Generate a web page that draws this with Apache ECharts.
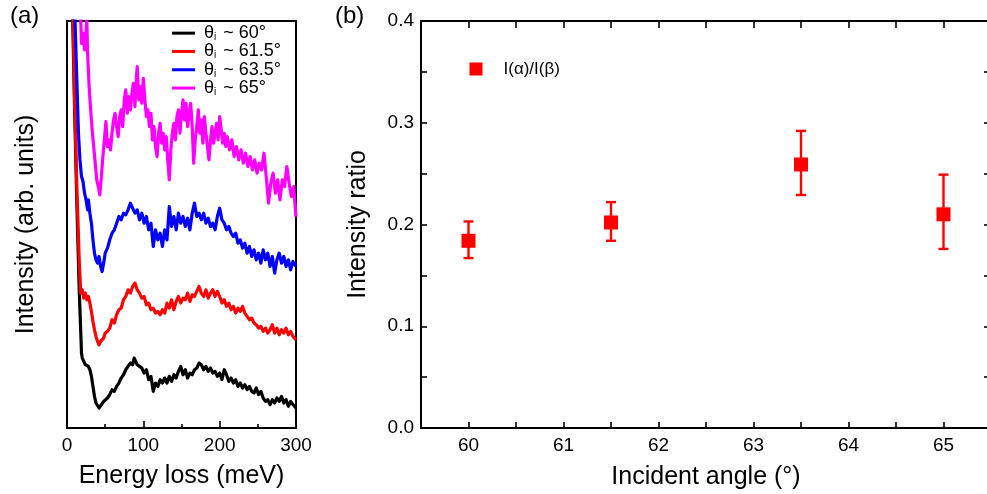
<!DOCTYPE html>
<html>
<head>
<meta charset="utf-8">
<script src="https://cdn.jsdelivr.net/npm/echarts@6/dist/echarts.min.js"></script>
<style>
html,body{margin:0;padding:0;background:#fff;}
#c{width:987px;height:494px;}
</style>
</head>
<body>
<div id="c"></div>
<script>
// ---------- Panel (a): EELS spectra, [energy loss (meV), intensity (arb. units)] ----------
const spec60 = [[6,1300],[7.5,1222],[10,955],[13,665],[16,415],[19,225],[20,210],[22,200],[24,190],[26,195],[28,185],[30,175],[32,155],[34,125],[36,95],[38,75],[40,70],[42,60],[44,65],[46,73],[48,80],[50,85],[53,90],[56,100],[59,115],[62,110],[65,125],[68,135],[71,150],[74,160],[77,175],[80,185],[83,195],[86,190],[88,210],[90,200],[92,190],[95,185],[98,180],[101,165],[104,175],[107,145],[110,155],[113,110],[116,135],[119,125],[122,145],[125,135],[128,150],[131,135],[134,155],[137,140],[140,160],[143,150],[146,170],[149,185],[152,160],[155,175],[158,150],[161,165],[164,160],[167,175],[170,180],[173,195],[176,190],[179,175],[182,185],[185,170],[188,180],[191,165],[194,170],[197,155],[200,165],[203,145],[206,175],[209,160],[212,140],[215,150],[218,135],[221,145],[224,125],[227,135],[230,120],[233,130],[236,115],[239,125],[242,110],[245,105],[248,120],[251,100],[254,110],[257,90],[260,80],[263,85],[266,70],[269,85],[272,75],[275,90],[278,80],[281,95],[284,75],[287,85],[290,65],[293,80],[296,70],[300,60]];
const spec615 = [[6,1300],[8,1222],[10,985],[13,715],[16,505],[18,405],[20,415],[22,390],[24,405],[26,385],[28,395],[30,375],[32,350],[34,320],[36,295],[38,275],[40,260],[42,250],[44,260],[46,255],[48,270],[50,285],[53,290],[56,300],[59,325],[62,315],[65,340],[68,355],[71,360],[74,385],[77,395],[80,415],[83,405],[86,425],[89,435],[92,415],[95,405],[98,390],[101,395],[104,370],[107,375],[110,355],[113,360],[116,345],[119,350],[122,340],[125,355],[128,345],[131,375],[134,360],[137,385],[140,355],[143,380],[146,395],[149,375],[152,390],[155,385],[158,405],[161,380],[164,400],[167,395],[170,410],[173,425],[176,405],[179,395],[182,415],[185,390],[188,405],[191,415],[194,395],[197,410],[200,395],[203,375],[206,385],[209,365],[212,375],[215,355],[218,365],[221,345],[224,360],[227,350],[230,365],[233,345],[236,335],[239,325],[242,330],[245,315],[248,310],[251,300],[254,305],[257,290],[260,300],[263,285],[266,295],[269,310],[272,285],[275,300],[278,280],[281,295],[284,285],[287,300],[290,280],[293,290],[296,275],[300,265]];
const spec635 = [[9,1300],[10.5,1222],[13,1035],[15,885],[17,805],[19,755],[21,740],[23,705],[25,685],[27,655],[28,685],[30,645],[32,615],[34,565],[36,525],[38,505],[40,495],[42,515],[44,485],[46,470],[48,495],[50,525],[53,540],[56,565],[59,585],[62,595],[65,615],[68,635],[71,625],[74,645],[77,640],[80,655],[83,675],[86,660],[89,645],[92,655],[95,625],[98,645],[101,615],[104,635],[107,595],[110,615],[113,545],[116,595],[119,565],[122,585],[125,545],[128,595],[131,565],[134,665],[137,605],[140,635],[143,595],[146,645],[149,615],[152,635],[155,605],[158,630],[161,595],[164,645],[167,675],[170,635],[173,645],[176,625],[179,645],[182,615],[185,630],[188,605],[191,615],[194,595],[197,635],[200,660],[203,625],[206,615],[209,595],[212,605],[215,585],[218,575],[221,585],[224,555],[227,565],[230,540],[233,555],[236,525],[239,545],[242,515],[245,535],[248,505],[251,525],[254,495],[257,535],[260,505],[263,525],[266,485],[269,515],[272,465],[275,505],[278,525],[281,495],[284,515],[287,485],[290,505],[293,475],[296,500],[300,485]];
const spec65 = [[17,1300],[19,1155],[21,1185],[23,1135],[25,1195],[26,1222],[27,1125],[29,1025],[31,955],[33,895],[35,845],[37,795],[39,745],[41,725],[43,700],[45,755],[47,815],[49,865],[51,920],[53,845],[55,865],[57,835],[59,885],[61,925],[63,945],[65,905],[67,875],[69,935],[71,955],[73,905],[75,985],[77,1015],[79,945],[81,995],[83,955],[85,1005],[87,1035],[89,965],[91,1055],[92,1085],[94,985],[96,1025],[98,975],[100,1050],[102,985],[104,935],[106,955],[108,905],[110,945],[112,865],[114,905],[116,845],[118,815],[120,885],[122,915],[124,855],[126,885],[128,835],[130,875],[132,805],[134,745],[136,835],[138,885],[140,915],[142,865],[144,935],[146,955],[148,885],[150,945],[152,985],[154,925],[156,975],[158,905],[160,945],[162,975],[164,905],[166,795],[168,865],[170,905],[172,955],[174,885],[176,925],[178,855],[180,935],[182,885],[184,845],[186,805],[188,865],[190,905],[192,855],[194,885],[196,915],[198,865],[200,935],[202,895],[204,855],[206,885],[208,845],[210,875],[213,835],[216,865],[219,815],[222,845],[225,805],[228,835],[231,795],[234,825],[237,785],[240,815],[243,775],[246,805],[249,765],[252,795],[255,775],[258,825],[261,755],[264,675],[267,735],[270,765],[273,705],[276,745],[279,685],[282,745],[285,725],[288,785],[291,735],[294,695],[297,725],[300,635]];
const specNames = ['θ{s|i} ~ 60°', 'θ{s|i} ~ 61.5°', 'θ{s|i} ~ 63.5°', 'θ{s|i} ~ 65°'];
const specKeys = ['s60', 's615', 's635', 's65'];
const specColors = ['#000000', '#ff0000', '#0000ff', '#ff00ff'];
const energyTicks = [0, 100, 200, 300];

// ---------- Panel (b): intensity ratio vs incident angle ----------
const angles = [60, 61.5, 63.5, 65];
const ratio = [0.184, 0.202, 0.259, 0.210];
const ratioLow = [0.167, 0.184, 0.229, 0.176];
const ratioHigh = [0.203, 0.222, 0.292, 0.249];
const ratioTicks = ['0.0', '0.1', '0.2', '0.3', '0.4'];

const FONT = 'Liberation Sans, Arial, sans-serif';
const chart = echarts.init(document.getElementById('c'), null, {renderer: 'canvas'});

const specSeries = [spec60, spec615, spec635, spec65].map((d, i) => ({
  id: specKeys[i],
  name: specNames[i],
  type: 'line',
  xAxisIndex: 0, yAxisIndex: 0,
  data: d,
  showSymbol: false,
  symbol: 'none',
  clip: true,
  lineStyle: {color: specColors[i], width: 3.2, join: 'round'},
  itemStyle: {color: specColors[i]},
  animation: false,
  z: 3
}));

const option = {
  animation: false,
  backgroundColor: '#fff',
  textStyle: {fontFamily: FONT, color: '#000'},
  grid: [
    {left: 67, right: 691, top: 21, bottom: 66, show: true, borderColor: '#000', borderWidth: 2,
     backgroundColor: 'transparent', outerBoundsMode: 'none', containLabel: false},
    {left: 421, right: -4, top: 21, bottom: 66, outerBoundsMode: 'none', containLabel: false}
  ],
  xAxis: [
    {
      gridIndex: 0, type: 'value', min: 0, max: 300, interval: 100,
      name: 'Energy loss (meV)', nameLocation: 'middle', nameGap: 36,
      nameTextStyle: {fontSize: 25, color: '#000', fontFamily: FONT},
      axisLine: {show: true, lineStyle: {color: '#000', width: 2}},
      axisTick: {show: true, inside: true, length: 7, lineStyle: {color: '#000', width: 1.6}},
      minorTick: {show: true, splitNumber: 2, length: 4, lineStyle: {color: '#000', width: 1.6}},
      axisLabel: {fontSize: 19, color: '#000', margin: 8, fontFamily: FONT,
        formatter: v => energyTicks.indexOf(v) >= 0 ? String(v) : ''},
      splitLine: {show: false}, minorSplitLine: {show: false}
    },
    {
      gridIndex: 1, type: 'value', min: 59.5, max: 65.5, interval: 0.5,
      name: 'Incident angle (°)', nameLocation: 'middle', nameGap: 37,
      nameTextStyle: {fontSize: 25, color: '#000', fontFamily: FONT},
      axisLine: {show: true, onZero: false, lineStyle: {color: '#000', width: 2}},
      axisTick: {show: true, inside: true, length: 6, lineStyle: {color: '#000', width: 1.6}},
      axisLabel: {fontSize: 19, color: '#000', margin: 8, fontFamily: FONT,
        formatter: v => (Math.abs(v - Math.round(v)) < 1e-6 && v >= 60 && v <= 65) ? String(Math.round(v)) : ''},
      splitLine: {show: false}
    },
    {
      gridIndex: 1, type: 'value', min: 59.5, max: 65.5, interval: 0.5, position: 'top',
      axisLine: {show: true, onZero: false, lineStyle: {color: '#000', width: 2}},
      axisTick: {show: true, inside: true, length: 7, lineStyle: {color: '#000', width: 1.6}},
      axisLabel: {show: false}, splitLine: {show: false}
    }
  ],
  yAxis: [
    {
      gridIndex: 0, type: 'value', min: 0, max: 1222,
      name: 'Intensity (arb. units)', nameLocation: 'middle', nameGap: 28,
      nameTextStyle: {fontSize: 25, color: '#000', fontFamily: FONT},
      axisLine: {show: true, lineStyle: {color: '#000', width: 2}},
      axisTick: {show: false}, axisLabel: {show: false}, splitLine: {show: false}
    },
    {
      gridIndex: 1, type: 'value', min: 0, max: 0.4, interval: 0.05,
      name: 'Intensity ratio', nameLocation: 'middle', nameGap: 50,
      nameTextStyle: {fontSize: 25, color: '#000', fontFamily: FONT},
      axisLine: {show: true, onZero: false, lineStyle: {color: '#000', width: 2}},
      axisTick: {show: true, inside: true, length: 6, lineStyle: {color: '#000', width: 1.6}},
      axisLabel: {fontSize: 19, color: '#000', margin: 7, fontFamily: FONT,
        formatter: v => {
          const k = Math.round(v * 100);
          return k % 10 === 0 ? ratioTicks[k / 10] : '';
        }},
      splitLine: {show: false}
    },
    {
      gridIndex: 1, type: 'value', min: 0, max: 0.4, interval: 0.05, position: 'right',
      axisLine: {show: true, onZero: false, lineStyle: {color: '#000', width: 2}},
      axisTick: {show: true, inside: true, length: 7, lineStyle: {color: '#000', width: 1.6}},
      axisLabel: {show: false}, splitLine: {show: false}
    }
  ],
  legend: [
    {
      data: specNames.map((n, i) => ({name: n, icon: 'rect', itemStyle: {color: specColors[i]}})),
      orient: 'vertical', left: 172, top: 24, padding: 0, itemWidth: 23, itemHeight: 3, itemGap: 0,
      selectedMode: false,
      textStyle: {
        fontSize: 18, color: '#000', fontFamily: FONT, lineHeight: 18.3, padding: [0, 0, 0, 4],
        rich: {s: {fontSize: 10, color: '#000', fontFamily: FONT, verticalAlign: 'bottom', padding: [0, 2, 0, 0]}}
      }
    },
    {
      data: [{name: 'I(α)/I(β)', icon: 'rect'}],
      left: 469.5, top: 60, padding: 0, itemWidth: 13, itemHeight: 13, selectedMode: false,
      textStyle: {fontSize: 17, color: '#000', fontFamily: FONT, lineHeight: 18, padding: [0, 0, 0, 16]}
    }
  ],
  graphic: [
    {type: 'text', left: 10, top: 4, style: {text: '(a)', font: '24px ' + FONT, fill: '#000'}},
    {type: 'text', left: 335, top: 4, style: {text: '(b)', font: '24px ' + FONT, fill: '#000'}}
  ],
  series: specSeries.concat([
    {
      name: 'errbar',
      type: 'custom',
      xAxisIndex: 1, yAxisIndex: 1,
      data: angles.map((a, i) => [a, ratioLow[i], ratioHigh[i]]),
      renderItem: function (params, api) {
        const x = api.value(0);
        const lo = api.coord([x, api.value(1)]);
        const hi = api.coord([x, api.value(2)]);
        const cap = 5;
        const st = {stroke: '#ff0000', lineWidth: 2.4};
        return {
          type: 'group',
          children: [
            {type: 'line', shape: {x1: lo[0], y1: lo[1], x2: hi[0], y2: hi[1]}, style: st},
            {type: 'line', shape: {x1: lo[0] - cap, y1: lo[1], x2: lo[0] + cap, y2: lo[1]}, style: st},
            {type: 'line', shape: {x1: hi[0] - cap, y1: hi[1], x2: hi[0] + cap, y2: hi[1]}, style: st}
          ]
        };
      },
      z: 2
    },
    {
      name: 'I(α)/I(β)',
      type: 'scatter',
      xAxisIndex: 1, yAxisIndex: 1,
      data: angles.map((a, i) => [a, ratio[i]]),
      symbol: 'rect', symbolSize: 14,
      itemStyle: {color: '#ff0000', opacity: 1},
      z: 3
    }
  ])
};
chart.setOption(option);
</script>
</body>
</html>
